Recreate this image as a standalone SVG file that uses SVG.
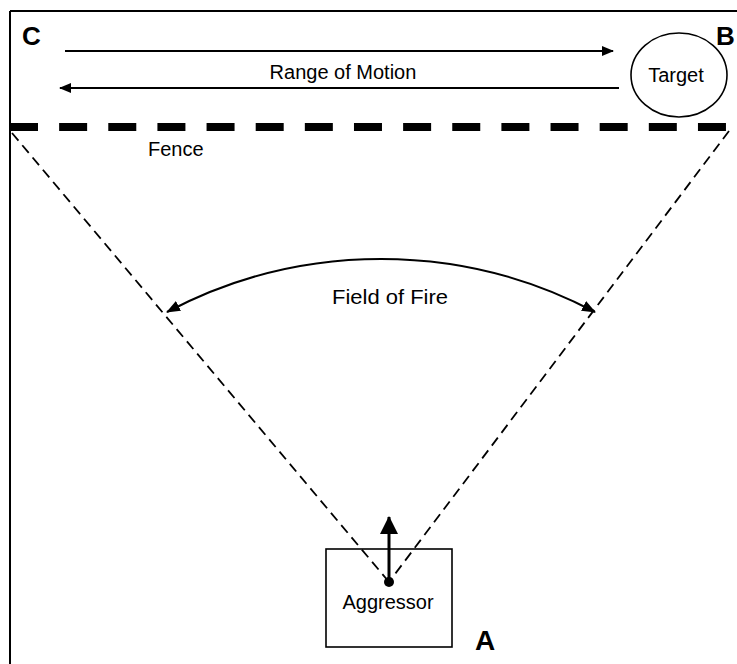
<svg xmlns="http://www.w3.org/2000/svg" width="737" height="664" viewBox="0 0 737 664">
<style>
  .lbl { font-family: "Liberation Sans", Arial, sans-serif; font-size: 20px; fill: #000; }
  .big { font-family: "Liberation Sans", Arial, sans-serif; font-weight: bold; fill: #000; }
  .ln { stroke: #000; stroke-width: 2; fill: none; }
  .dash { stroke: #000; stroke-width: 1.8; fill: none; stroke-dasharray: 10 6; }
</style>
<defs>
  <marker id="ah" viewBox="0 0 12 10" refX="11" refY="5" markerWidth="12" markerHeight="10" markerUnits="userSpaceOnUse" orient="auto-start-reverse">
    <path d="M0,0 L12,5 L0,10 Z" fill="#000"/>
  </marker>
  <marker id="ahArc" viewBox="0 0 14 11" refX="13" refY="5.5" markerWidth="14" markerHeight="11" markerUnits="userSpaceOnUse" orient="auto-start-reverse">
    <path d="M0,0 L14,5.5 L0,11 Z" fill="#000"/>
  </marker>
  <marker id="ahBig" viewBox="0 0 18 18" refX="17" refY="9" markerWidth="18" markerHeight="18" markerUnits="userSpaceOnUse" orient="auto">
    <path d="M0,0 L18,9 L0,18 Z" fill="#000"/>
  </marker>
</defs>
<rect width="737" height="664" fill="#fff"/>
<g id="frame">
  <line class="ln" x1="10" y1="11" x2="737" y2="11"/>
  <line class="ln" x1="10" y1="11" x2="10" y2="664"/>
</g>
<g id="fence">
  <line x1="10" y1="127" x2="737" y2="127" stroke="#000" stroke-width="8" stroke-dasharray="28 21.14"/>
  <text class="lbl" x="148" y="156">Fence</text>
</g>
<g id="connectors">
  <line class="ln" x1="65" y1="51" x2="613" y2="51" marker-end="url(#ah)"/>
  <line class="ln" x1="619" y1="88" x2="60" y2="88" marker-end="url(#ah)"/>
  <line class="dash" x1="12" y1="133" x2="389" y2="582"/>
  <line class="dash" x1="729" y1="131" x2="389" y2="582"/>
  <path class="ln" d="M167,312 A458,458 0 0 1 595,312" marker-start="url(#ahArc)" marker-end="url(#ahArc)"/>
  <line x1="389" y1="582" x2="389" y2="517" stroke="#000" stroke-width="3" marker-end="url(#ahBig)"/>
</g>
<g id="range-label">
  <text class="lbl" x="343" y="79" text-anchor="middle">Range of Motion</text>
</g>
<g id="field-label">
  <text class="lbl" x="390" y="304" text-anchor="middle" textLength="116" lengthAdjust="spacingAndGlyphs">Field of Fire</text>
</g>
<g id="target">
  <ellipse cx="679" cy="75" rx="48" ry="42" fill="none" stroke="#000" stroke-width="1.6"/>
  <text class="lbl" x="676" y="82" text-anchor="middle" font-size="21">Target</text>
</g>
<g id="aggressor">
  <rect x="326" y="549" width="126" height="98" fill="none" stroke="#000" stroke-width="1.6"/>
  <circle cx="389" cy="582" r="5" fill="#000"/>
  <text class="lbl" x="388" y="609" text-anchor="middle" font-size="21">Aggressor</text>
</g>
<g id="labels">
  <text class="big" x="22" y="45" font-size="26">C</text>
  <text class="big" x="716" y="45" font-size="26">B</text>
  <text class="big" x="475" y="650" font-size="28">A</text>
</g>
</svg>
